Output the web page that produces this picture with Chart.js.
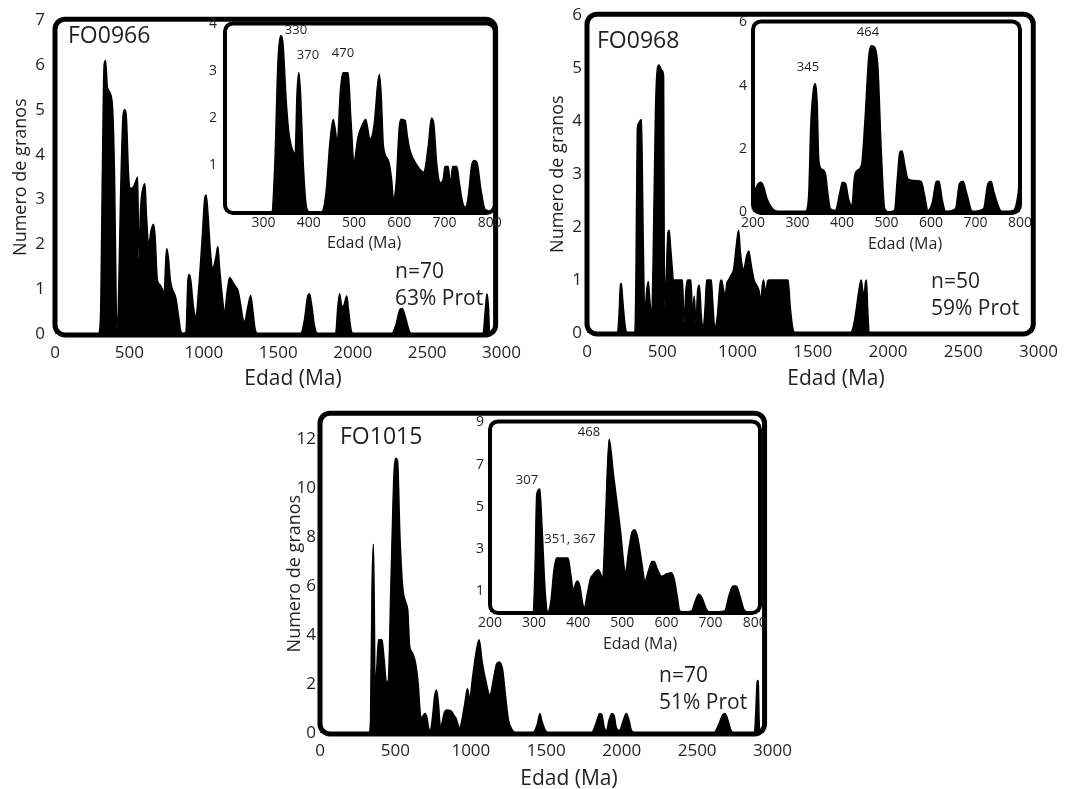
<!DOCTYPE html>
<html>
<head>
<meta charset="utf-8">
<script src="https://cdn.jsdelivr.net/npm/chart.js@4.4.0/dist/chart.umd.min.js"></script>
<style>
  body { margin: 0; background: #fff; width: 1067px; height: 789px; position: relative; overflow: hidden;
         font-family: "Open Sans", sans-serif; color: #231f20; }
  canvas { position: absolute; }
  .lbl { position: absolute; white-space: nowrap; line-height: 1; }
</style>
</head>
<body>
<canvas id="m1" width="530" height="392" style="left:0;top:0"></canvas>
<canvas id="m2" width="535" height="392" style="left:532px;top:0"></canvas>
<canvas id="m3" width="540" height="389" style="left:260px;top:400px"></canvas>
<canvas id="i1" width="310" height="245" style="left:195px;top:8px"></canvas>
<canvas id="i2" width="335" height="245" style="left:725px;top:8px"></canvas>
<canvas id="i3" width="310" height="245" style="left:460px;top:408px"></canvas>
<script>
const INK = "#231f20";
const FONT = "'Open Sans', sans-serif";

// ticks
const MAIN_X_TICKS = [0, 500, 1000, 1500, 2000, 2500, 3000];
const M1_Y_TICKS = [0, 1, 2, 3, 4, 5, 6, 7];
const M2_Y_TICKS = [0, 1, 2, 3, 4, 5, 6];
const M3_Y_TICKS = [0, 2, 4, 6, 8, 10, 12];
const I1_X_TICKS = [300, 400, 500, 600, 700, 800];
const I23_X_TICKS = [200, 300, 400, 500, 600, 700, 800];
const I1_Y_TICKS = [1, 2, 3, 4];
const I2_Y_TICKS = [0, 2, 4, 6];
const I3_Y_TICKS = [1, 3, 5, 7, 9];

// FO0966 - edad (Ma) / numero de granos
const FO0966_AGE = [0,290,305,318,330,340,352,383,400,412,417,425,440,458,468,478,495,507,530,548,555,564,575,595,604,615,631,645,662,672,688,705,721,733,745,751,762,775,789,812,830,846,860,880,893,902,912,930,947,965,990,1005,1015,1025,1045,1060,1080,1094,1105,1125,1139,1155,1173,1195,1215,1229,1245,1262,1274,1295,1315,1330,1345,1364,1650,1675,1698,1710,1722,1745,1765,1885,1900,1912,1928,1942,1960,1973,1992,2010,2260,2290,2318,2333,2352,2382,2405,2875,2890,2902,2912,2920,2955];
const FO0966_N   = [0,0,0.3,3.5,6.0,6.1,5.5,5.2,3.5,0.5,0.15,0.5,3.0,4.9,5.0,4.9,3.5,3.25,3.3,3.45,3.5,1.7,2.8,3.3,3.35,2.6,2.0,2.3,2.45,2.2,1.2,1.1,1.0,0.9,1.7,1.9,1.7,1.2,1.0,0.8,0.4,0.05,0,0.05,1.2,1.33,1.2,0.6,0.38,1.0,2.2,3.0,3.1,2.8,1.8,1.47,1.7,1.95,1.5,0.8,0.46,0.9,1.26,1.15,1.05,0.97,0.7,0.35,0.28,0.6,0.86,0.5,0.1,0,0,0.3,0.85,0.9,0.7,0.15,0,0,0.6,0.9,0.6,0.65,0.85,0.5,0.05,0,0,0.2,0.55,0.57,0.4,0.05,0,0,0.5,0.9,0.6,0,0];

const FO0966_IN_AGE = [215,318,325,332,338,343,350,356,365,370,374,378,382,388,395,402,428,438,447,454,458,463,470,476,487,493,500,509,518,526,530,535,545,552,556,560,565,576,583,587,593,600,604,613,618,624,639,654,664,671,676,683,691,697,701,708,713,718,727,733,740,746,752,760,766,772,780,790,812];
const FO0966_IN_N   = [0,0,1.0,3.2,3.76,3.6,2.4,1.7,1.3,1.25,2.5,2.97,2.5,1.0,0.1,0,0,0.4,1.5,1.97,1.8,1.48,2.6,2.97,2.97,2.0,1.1,1.6,1.85,1.97,1.8,1.55,1.9,2.7,2.93,2.5,1.4,1.1,0.7,0.28,0.6,1.8,1.98,1.95,1.6,1.3,1.0,0.85,1.4,2.0,1.9,1.0,0.62,0.7,0.97,0.97,0.6,0.97,0.97,0.6,0.2,0.1,0.3,1.0,1.1,1.05,0.5,0.05,0];

// FO0968
const FO0968_AGE = [0,200,212,222,228,238,255,272,315,325,334,340,362,370,380,385,397,407,418,430,440,455,468,478,500,509,513,516,528,538,546,556,577,634,645,657,668,690,702,712,724,735,747,760,772,785,795,826,835,849,865,885,894,905,917,930,940,958,974,990,1007,1020,1041,1060,1075,1090,1110,1143,1155,1165,1173,1181,1189,1200,1211,1336,1350,1370,1385,1750,1775,1812,1822,1832,1840,1850,1857,1864,1875,2960];
const FO0968_N   = [0,0,0.3,0.9,0.94,0.6,0.1,0,0,1.0,3.8,3.94,4.03,2.5,0.6,0.44,0.8,0.97,0.6,0.3,1.5,4.2,5.0,5.06,4.95,4.84,1.5,0.5,1.2,1.9,1.94,1.6,1.0,1.0,0.2,0.8,1.0,1.0,0.3,0.7,0.2,0.8,0.9,0.3,0.1,0.5,1.0,1.0,0.6,0.1,0.3,0.95,1.0,0.85,0.7,0.95,1.0,1.1,1.2,1.6,1.94,1.5,1.2,1.45,1.55,1.3,1.0,0.8,0.6,0.9,1.0,0.85,0.8,0.98,1.0,1.0,0.5,0.05,0,0,0.2,0.9,1.0,0.8,0.7,0.95,1.0,0.5,0,0];

const FO0968_IN_AGE = [200,205,212,218,224,232,244,256,318,325,330,336,340,344,348,355,363,368,374,385,395,401,408,415,422,428,433,444,452,460,466,474,481,488,496,505,518,524,530,535,541,548,560,578,586,593,603,612,618,625,633,655,664,672,680,693,718,728,735,742,759,785,795,800];
const FO0968_IN_N   = [0.5,0.7,0.9,0.94,0.8,0.4,0.1,0.02,0.02,0.5,2.8,3.9,4.06,3.5,1.6,1.35,1.2,0.6,0.1,0.05,0.6,0.94,0.9,0.4,0.2,1.1,1.3,1.5,3.0,4.9,5.26,5.2,4.5,2.0,0.1,0,0.05,1.0,1.9,1.93,1.5,1.05,1.0,0.97,0.5,0.05,0.3,0.97,0.97,0.4,0.02,0.1,0.9,0.97,0.6,0.02,0.1,0.9,0.97,0.6,0.02,0.05,0.5,1.2];

// FO1015
const FO1015_AGE = [0,325,335,345,354,360,365,375,388,411,425,440,452,470,490,502,514,530,548,570,582,594,610,628,640,651,662,669,683,696,710,720,731,745,760,772,785,799,812,825,840,868,890,902,925,940,960,977,993,1010,1035,1055,1075,1100,1126,1150,1170,1187,1210,1230,1250,1278,1300,1410,1440,1458,1470,1500,1520,1800,1830,1855,1868,1885,1900,1915,1935,1950,1965,1985,2010,2030,2045,2065,2090,2610,2640,2670,2685,2700,2725,2750,2880,2890,2898,2905,2912,2920,2945];
const FO1015_N   = [0,0,0.5,6.0,7.7,5.0,1.8,2.5,3.8,3.8,3.0,2.1,2.1,6.0,10.5,11.2,11.1,8.0,5.96,5.3,5.0,3.55,3.3,3.0,2.6,2.0,1.0,0.6,0.7,0.8,0.6,0.2,0.1,0.6,1.5,1.75,1.2,0.2,0.5,0.85,0.94,0.9,0.7,0.6,0.2,0.5,1.2,1.8,1.4,2.2,3.3,3.8,2.9,2.1,1.55,2.2,2.8,2.9,2.6,1.5,0.5,0.1,0,0,0.35,0.8,0.5,0.05,0,0,0.4,0.8,0.75,0.2,0.1,0.5,0.8,0.7,0.2,0.1,0.5,0.8,0.6,0.1,0,0,0.3,0.75,0.8,0.6,0.1,0,0,1.0,2.14,2.1,0.3,0,0];

const FO1015_IN_AGE = [200,298,302,306,313,318,325,331,338,345,351,377,383,389,395,398,404,410,414,420,428,434,445,451,455,462,470,480,495,507,515,522,528,535,545,551,560,567,572,580,589,600,611,617,624,630,640,657,665,673,680,690,698,732,742,751,758,766,776,785,812];
const FO1015_IN_N   = [0,0,2.0,5.6,5.84,4.0,1.0,0,0.5,2.0,2.56,2.56,1.8,1.05,1.4,1.47,1.2,0.4,0.2,0.8,1.6,1.78,2.0,1.8,1.5,4.5,8.2,6.5,4.0,1.94,3.0,3.8,3.9,3.5,2.2,1.47,2.0,2.4,2.4,2.0,1.7,1.8,1.86,1.6,0.8,0.05,0,0.05,0.5,0.84,0.7,0.15,0,0.05,0.8,1.23,1.23,0.8,0.1,0,0];

function pts(ages, counts) {
  return ages.map((a, i) => ({ x: a, y: counts[i] }));
}

// thick rounded box around the plot area
const framePlugin = {
  id: 'frame',
  beforeDatasetsDraw(chart, args, opts) {
    if (!opts.fill) return;
    const a = chart.chartArea, ctx = chart.ctx;
    ctx.save();
    ctx.fillStyle = '#fff';
    ctx.beginPath();
    ctx.roundRect(a.left, a.top, a.right - a.left, a.bottom - a.top, opts.radius);
    ctx.fill();
    ctx.restore();
  },
  afterDatasetsDraw(chart, args, opts) {
    const a = chart.chartArea, ctx = chart.ctx;
    const right = opts.end != null ? chart.scales.x.getPixelForValue(opts.end) : a.right;
    ctx.save();
    ctx.strokeStyle = '#000';
    ctx.lineWidth = opts.lineWidth;
    ctx.beginPath();
    ctx.roundRect(a.left, a.top - 1, right - a.left, a.bottom - a.top + 2, opts.radius);
    ctx.stroke();
    ctx.restore();
  }
};

function makeChart(id, cfg) {
  const tickFont = { family: FONT, size: cfg.tickSize };
  return new Chart(document.getElementById(id), {
    type: 'line',
    data: {
      datasets: [{
        data: cfg.data,
        fill: 'origin',
        backgroundColor: '#000',
        borderColor: '#000',
        borderWidth: 1.5,
        pointRadius: 0,
        cubicInterpolationMode: 'monotone'
      }]
    },
    options: {
      responsive: false,
      animation: false,
      devicePixelRatio: 1,
      layout: { padding: { left: 0, top: cfg.padTop, right: cfg.padRight, bottom: 0 } },
      plugins: {
        legend: { display: false },
        tooltip: { enabled: false },
        frame: { lineWidth: cfg.frameWidth, radius: cfg.radius, end: cfg.frameEnd, fill: cfg.whiteBox }
      },
      scales: {
        x: {
          type: 'linear', min: cfg.xMin, max: cfg.xMax,
          grid: { display: false, drawTicks: false },
          border: { display: false },
          afterBuildTicks: s => { s.ticks = cfg.xTicks.map(v => ({ value: v })); },
          afterFit: s => { s.height = cfg.xH; },
          ticks: { autoSkip: false, maxRotation: 0, padding: cfg.xPad, color: INK, font: tickFont, callback: v => String(v) }
        },
        y: {
          type: 'linear', min: 0, max: cfg.yMax,
          grid: { display: false, drawTicks: false },
          border: { display: false },
          afterBuildTicks: s => { s.ticks = cfg.yTicks.map(v => ({ value: v })); },
          afterFit: s => { s.width = cfg.yW; },
          ticks: { autoSkip: false, padding: cfg.yPad, color: INK, font: tickFont, callback: v => String(v) },
          title: {
            display: !!cfg.yTitle, text: cfg.yTitle || '', color: INK,
            font: { family: FONT, size: 18 }, padding: { top: cfg.yTitlePad || 0, bottom: 0 }
          }
        }
      }
    },
    plugins: [framePlugin]
  });
}

// main panels
makeChart('m1', {
  data: pts(FO0966_AGE, FO0966_N), xMin: 0, xMax: 3000, yMax: 7,
  xTicks: MAIN_X_TICKS, yTicks: M1_Y_TICKS, tickSize: 17,
  padTop: 13, padRight: 20, xH: 58, yW: 55, xPad: 9, yPad: 10,
  yTitle: 'Numero de granos', yTitlePad: 10,
  frameWidth: 5, radius: 10, frameEnd: 2960
});
makeChart('m2', {
  data: pts(FO0968_AGE, FO0968_N), xMin: 0, xMax: 3000, yMax: 6,
  xTicks: MAIN_X_TICKS, yTicks: M2_Y_TICKS, tickSize: 17,
  padTop: 14, padRight: 27, xH: 59, yW: 55, xPad: 9, yPad: 5,
  yTitle: 'Numero de granos', yTitlePad: 15,
  frameWidth: 5, radius: 10, frameEnd: 2965
});
makeChart('m3', {
  data: pts(FO1015_AGE, FO1015_N), xMin: 0, xMax: 3000, yMax: 13,
  xTicks: MAIN_X_TICKS, yTicks: M3_Y_TICKS, tickSize: 17,
  padTop: 11, padRight: 25, xH: 56, yW: 60, xPad: 8, yPad: 4,
  yTitle: 'Numero de granos', yTitlePad: 24,
  frameWidth: 5, radius: 10, frameEnd: 2947
});

// insets
makeChart('i1', {
  data: pts(FO0966_IN_AGE, FO0966_IN_N), xMin: 215, xMax: 811, yMax: 4,
  xTicks: I1_X_TICKS, yTicks: I1_Y_TICKS, tickSize: 14,
  padTop: 10, padRight: 10, xH: 41, yW: 30, xPad: 3, yPad: 8,
  frameWidth: 4, radius: 8, whiteBox: true
});
makeChart('i2', {
  data: pts(FO0968_IN_AGE, FO0968_IN_N), xMin: 200, xMax: 800, yMax: 6,
  xTicks: I23_X_TICKS, yTicks: I2_Y_TICKS, tickSize: 14,
  padTop: 10, padRight: 40, xH: 41, yW: 28, xPad: 3, yPad: 6,
  frameWidth: 4, radius: 8, whiteBox: true
});
makeChart('i3', {
  data: pts(FO1015_IN_AGE, FO1015_IN_N), xMin: 200, xMax: 812, yMax: 9,
  xTicks: I23_X_TICKS, yTicks: I3_Y_TICKS, tickSize: 14,
  padTop: 12, padRight: 10, xH: 41, yW: 30, xPad: 3, yPad: 6,
  frameWidth: 4, radius: 8, whiteBox: true
});

// free text: sample names, counts, axis names, peak ages
function addText(text, x, y, size, center) {
  const d = document.createElement('div');
  d.className = 'lbl';
  d.textContent = text;
  d.style.left = x + 'px';
  d.style.top = y + 'px';
  d.style.fontSize = size + 'px';
  d.style.transform = center ? 'translate(-50%,-50%)' : 'translate(0,-50%)';
  document.body.appendChild(d);
}

addText('FO0966', 68, 34, 23);
addText('FO0968', 597, 39, 23);
addText('FO1015', 340, 435, 23);

addText('n=70', 395, 270, 21);
addText('63% Prot', 395, 297, 21);
addText('n=50', 931, 280, 21);
addText('59% Prot', 931, 307, 21);
addText('n=70', 659, 674, 21);
addText('51% Prot', 659, 701, 21);

addText('Edad (Ma)', 293, 377, 21, true);
addText('Edad (Ma)', 836, 377, 21, true);
addText('Edad (Ma)', 569, 777, 21, true);
addText('Edad (Ma)', 364, 242, 16, true);
addText('Edad (Ma)', 905, 243, 16, true);
addText('Edad (Ma)', 640, 643, 16, true);

addText('330', 296, 29, 13, true);
addText('370', 308, 54, 13, true);
addText('470', 343, 52, 13, true);
addText('345', 808, 66, 13, true);
addText('464', 868, 31, 13, true);
addText('307', 527, 479, 13, true);
addText('351, 367', 570, 538, 13, true);
addText('468', 589, 431, 13, true);
</script>
</body>
</html>
